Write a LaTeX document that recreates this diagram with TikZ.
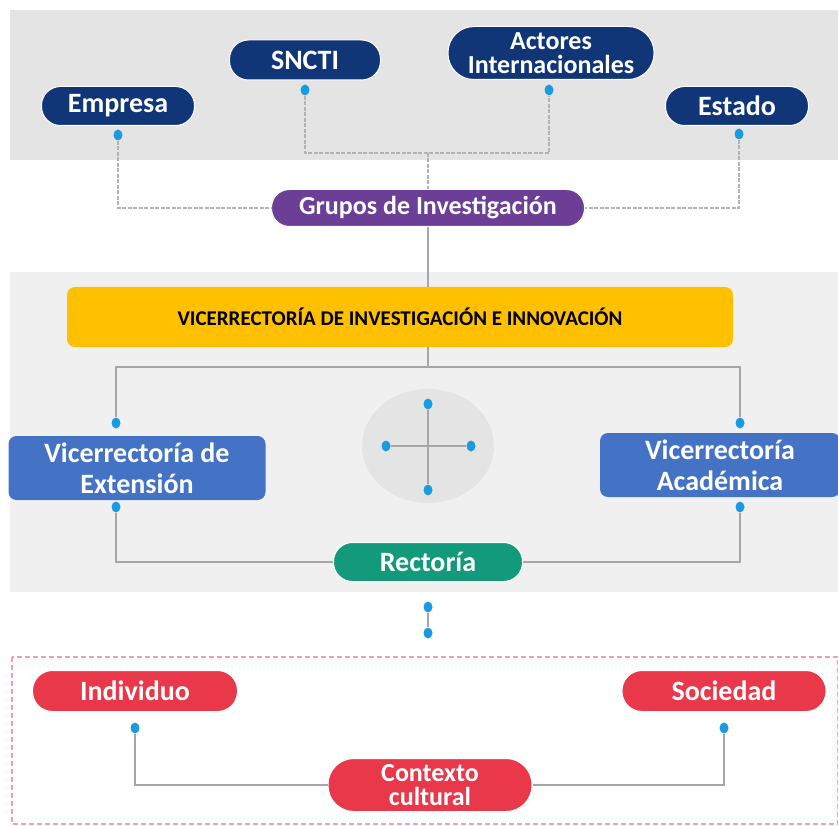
\documentclass[tikz,border=0pt]{standalone}
\usepackage{fontspec}
\setmainfont{Carlito}
\usetikzlibrary{positioning,shapes.geometric}

\definecolor{navy}{RGB}{16,54,120}
\definecolor{morado}{RGB}{108,62,150}
\definecolor{verde}{RGB}{18,154,122}
\definecolor{rojo}{RGB}{232,56,74}
\definecolor{azulcaja}{RGB}{68,114,196}
\definecolor{amarillo}{RGB}{255,192,0}
\definecolor{punto}{RGB}{26,155,224}
\definecolor{linea}{RGB}{166,166,166}
\definecolor{fondoa}{RGB}{228,228,228}
\definecolor{fondob}{RGB}{240,240,240}
\definecolor{rosa}{RGB}{240,160,172}

\tikzset{
  pill/.style={draw=white, line width=1pt, rounded corners=#1, text=white,
    font=\bfseries\fontsize{28}{28}\selectfont, align=center, inner sep=0pt},
  dos/.style={font=\bfseries\fontsize{26}{24}\selectfont},
  caja/.style={fill=azulcaja, rounded corners=8pt, text=white, align=center,
    font=\bfseries\fontsize{28}{31}\selectfont, inner sep=0pt},
  dot/.style={ellipse, fill=punto, minimum width=9pt, minimum height=11pt, inner sep=0pt},
  conector/.style={linea, line width=2pt},
  punteado/.style={linea!85, line width=2.5pt, dash pattern=on 4pt off 1.5pt}
}

\begin{document}
\begin{tikzpicture}[x=1pt,y=-1pt]
\useasboundingbox (0,0) rectangle (838,826);

% fondos
\fill[fondoa] (10,10) rectangle (838,160);
\fill[fondob] (10,272) rectangle (838,592);
\draw[rosa, line width=2pt, dash pattern=on 5pt off 3pt] (12,657) rectangle (838,824);
\fill[fondoa] (428,446) ellipse (66 and 57);

% actores externos
\node[pill=19pt, fill=navy, minimum width=153pt, minimum height=39pt] (emp) at (118,106) {Empresa};
\node[pill=19pt, fill=navy, minimum width=151pt, minimum height=40pt] (sncti) at (305,60) {SNCTI};
\node[pill=26pt, fill=navy, minimum width=206pt, minimum height=53pt, dos] (act) at (551,53) {Actores\\Internacionales};
\node[pill=19pt, fill=navy, minimum width=143pt, minimum height=39pt] (est) at (737,106) {Estado};

\node[dot] (demp) at (118,135) {};
\node[dot] (dsncti) at (305,90) {};
\node[dot] (dact) at (549,90) {};
\node[dot] (dest) at (739,134) {};

\node[pill=18pt, fill=morado, minimum width=313pt, minimum height=37pt, font=\bfseries\fontsize{26}{26}\selectfont] (grupos) at (428,208) {Grupos de Investigación};
\coordinate (jt) at (428,153);

\draw[punteado] (dsncti) |- (jt) -| (dact);
\draw[punteado] (jt) -- (grupos);
\draw[punteado] (demp) |- (grupos);
\draw[punteado] (dest) |- (grupos);

% universidad
\node[fill=amarillo, rounded corners=8pt, minimum width=666pt, minimum height=60pt,
  font=\bfseries\fontsize{21}{21}\selectfont] (vii) at (400,317) {VICERRECTORÍA DE INVESTIGACIÓN E INNOVACIÓN};
\draw[conector] (grupos) -- (grupos |- vii.north);

\node[caja, minimum width=257pt, minimum height=64pt] (vext) at (137,468) {Vicerrectoría de\\Extensión};
\node[caja, minimum width=240pt, minimum height=64pt] (vac) at (720,465) {Vicerrectoría\\Académica};

\node[dot] (dvext) at (116,423) {};
\node[dot] (dvac) at (740,423) {};
\node[dot] (dvextb) at (116,507) {};
\node[dot] (dvacb) at (740,507) {};

\coordinate (jm) at (428,367);
\draw[conector] (jm |- vii.south) -- (jm);
\draw[conector] (dvext) |- (jm) -| (dvac);

% cruz central
\node[dot] (cn) at (428,404) {};
\node[dot] (cs) at (428,490) {};
\node[dot] (cw) at (386,446) {};
\node[dot] (ce) at (471,446) {};
\draw[conector] (cn) -- (cs);
\draw[conector] (cw) -- (ce);

\node[pill=19pt, fill=verde, minimum width=189pt, minimum height=39pt] (rect) at (428,562) {Rectoría};
\draw[conector] (dvextb) |- (rect);
\draw[conector] (dvacb) |- (rect);

\node[dot] (dr1) at (428,607) {};
\node[dot] (dr2) at (428,633) {};
\draw[conector] (dr1) -- (dr2);

% contexto
\node[pill=20pt, fill=rojo, minimum width=205pt, minimum height=41pt] (ind) at (135,691) {Individuo};
\node[pill=20pt, fill=rojo, minimum width=204pt, minimum height=41pt] (soc) at (724,691) {Sociedad};
\node[pill=26pt, fill=rojo, minimum width=204pt, minimum height=53pt, dos] (ctx) at (430,785) {Contexto\\cultural};

\node[dot] (dind) at (135,728) {};
\node[dot] (dsoc) at (724,728) {};
\draw[conector] (dind) |- (ctx);
\draw[conector] (dsoc) |- (ctx);
\end{tikzpicture}
\end{document}
